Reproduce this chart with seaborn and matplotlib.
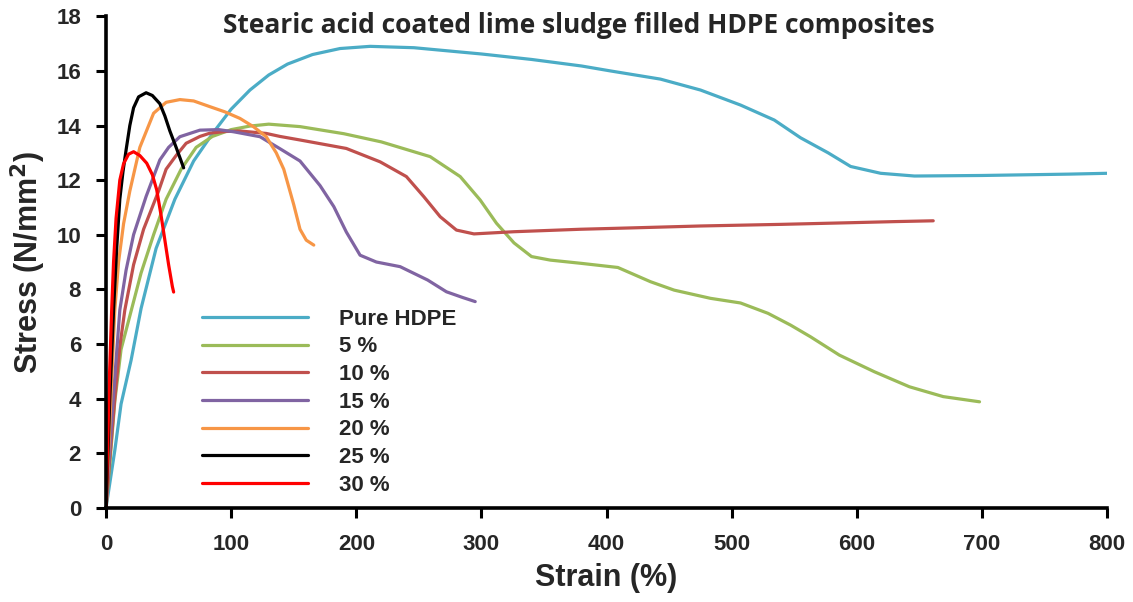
import matplotlib
matplotlib.use("Agg")
import matplotlib.pyplot as plt
import seaborn as sns

# Tensile stress-strain curves (strain in %, stress in N/mm^2)
pure_strain = [0, 3, 7, 12, 20, 28, 40, 55, 70, 85, 100, 115, 130, 145, 165, 187, 211,
               246, 300, 340, 380, 403, 443, 475, 507, 534, 555, 577, 595, 619, 646, 700, 770, 800]
pure_stress = [0, 0.9, 2.1, 3.8, 5.4, 7.3, 9.5, 11.3, 12.7, 13.7, 14.6, 15.3, 15.85, 16.25, 16.6,
               16.82, 16.9, 16.85, 16.62, 16.42, 16.18, 16.0, 15.7, 15.3, 14.75, 14.2, 13.55, 13.0,
               12.5, 12.25, 12.15, 12.17, 12.22, 12.25]

p5_strain = [0, 3, 7, 12, 20, 28, 38, 48, 60, 72, 85, 100, 115, 130, 155, 190, 220, 259, 283,
             299, 312, 326, 340, 355, 380, 409, 435, 454, 483, 507, 529, 547, 563, 586, 614, 642,
             669, 698]
p5_stress = [0, 1.6, 3.9, 5.8, 7.2, 8.6, 10.0, 11.3, 12.4, 13.2, 13.6, 13.85, 13.98, 14.05, 13.96,
             13.7, 13.4, 12.86, 12.13, 11.27, 10.42, 9.7, 9.2, 9.07, 8.95, 8.8, 8.28, 7.97, 7.67,
             7.5, 7.12, 6.69, 6.26, 5.59, 4.98, 4.43, 4.07, 3.88]

p10_strain = [0, 3, 7, 11, 15, 22, 30, 42, 48, 56, 64, 75, 83, 95, 107, 128, 139, 155, 192,
              219, 240, 254, 267, 280, 294, 326, 379, 420, 475, 540, 595, 630, 661]
p10_stress = [0, 1.8, 4.0, 5.9, 7.24, 8.9, 10.2, 11.6, 12.4, 12.9, 13.35, 13.6, 13.72, 13.78,
              13.8, 13.71, 13.6, 13.47, 13.16, 12.67, 12.13, 11.39, 10.66, 10.17, 10.03, 10.11,
              10.2, 10.25, 10.32, 10.38, 10.44, 10.48, 10.51]

p15_strain = [0, 2, 5, 8, 11, 16, 22, 32, 43, 50, 59, 75, 90, 102, 123, 139, 155, 171, 182,
              192, 203, 216, 235, 257, 272, 285, 295]
p15_stress = [0, 1.5, 3.5, 5.4, 7.24, 8.7, 10.0, 11.4, 12.74, 13.2, 13.59, 13.83, 13.85, 13.77,
              13.59, 13.15, 12.7, 11.8, 11.03, 10.1, 9.25, 9.0, 8.83, 8.34, 7.91, 7.7, 7.55]

p20_strain = [0, 2, 4, 7, 10, 14, 19, 27, 38, 48, 59, 70, 83, 95, 107, 118, 128, 136, 142,
              150, 155, 160, 166]
p20_stress = [0, 2.0, 4.2, 7.24, 9.0, 10.4, 11.6, 13.2, 14.45, 14.85, 14.95, 14.9, 14.69, 14.5,
              14.26, 13.95, 13.59, 13.0, 12.4, 11.1, 10.2, 9.8, 9.62]

p25_strain = [0, 1.5, 3, 6, 8.5, 11, 13.5, 16, 19, 22, 26, 32, 37, 43, 47, 51, 56, 62]
p25_stress = [0, 2.0, 4.0, 7.24, 9.5, 11.3, 12.3, 13.1, 14.0, 14.65, 15.05, 15.2, 15.1, 14.8,
              14.35, 13.8, 13.2, 12.45]

p30_strain = [0, 1, 2.5, 4.5, 6, 8, 11, 14, 18, 22, 27, 32.5, 37, 40.5, 44, 47, 50, 53, 54]
p30_stress = [0, 1.8, 4.5, 7.24, 9.0, 10.6, 12.0, 12.6, 12.95, 13.04, 12.9, 12.62, 12.2, 11.64,
              10.7, 9.8, 8.9, 8.1, 7.9]

labels = ["Pure HDPE", "5 %", "10 %", "15 %", "20 %", "25 %", "30 %"]
colors = ["#4BACC6", "#9BBB59", "#C0504D", "#8064A2", "#F79646", "#000000", "#FF0000"]
x_ticks = [0, 100, 200, 300, 400, 500, 600, 700, 800]
y_ticks = [0, 2, 4, 6, 8, 10, 12, 14, 16, 18]

series = [
    (pure_strain, pure_stress),
    (p5_strain, p5_stress),
    (p10_strain, p10_stress),
    (p15_strain, p15_stress),
    (p20_strain, p20_stress),
    (p25_strain, p25_stress),
    (p30_strain, p30_stress),
]

sns.set_style("ticks")
plt.rcParams["font.family"] = ["Liberation Sans", "DejaVu Sans"]
plt.rcParams["font.weight"] = "bold"

fig = plt.figure(figsize=(11.33, 6.02), dpi=100)
ax = fig.add_axes([0.0936, 0.1566, 0.8836, 0.8163])

for (xs, ys), lab, col in zip(series, labels, colors):
    sns.lineplot(x=xs, y=ys, sort=False, estimator=None, color=col, lw=2.3,
                 label=lab, ax=ax)

ax.set_xlim(0, 800)
ax.set_ylim(0, 18)
ax.set_xticks(x_ticks)
ax.set_yticks(y_ticks)
ax.set_xticklabels([str(t) for t in x_ticks], fontsize=16, fontweight="bold")
ax.set_yticklabels([str(t) for t in y_ticks], fontsize=16, fontweight="bold")
ax.tick_params(axis="both", direction="out", length=7, width=2.2, color="black")
ax.tick_params(axis="x", pad=12)
ax.tick_params(axis="y", pad=11)

for side in ("top", "right"):
    ax.spines[side].set_visible(False)
for side in ("left", "bottom"):
    ax.spines[side].set_linewidth(2.6)
    ax.spines[side].set_color("black")

ax.set_xlabel("Strain (%)", fontsize=22, fontweight="bold")
ax.set_ylabel("Stress (N/mm$^\\mathbf{2}$)", fontsize=22, fontweight="bold")
ax.xaxis.set_label_coords(0.5, -0.112)
ax.yaxis.set_label_coords(-0.058, 0.5)

fig.text(0.511, 0.958, "Stearic acid coated lime sludge filled HDPE composites",
         ha="center", va="center", fontsize=19, fontweight="bold",
         family=["Open Sans", "DejaVu Sans"])

leg = ax.legend(loc="upper left", bbox_to_anchor=(0.096, 0.405), frameon=False,
                fontsize=16, handlelength=4.75, handletextpad=1.4, labelspacing=0.3,
                borderpad=0, borderaxespad=0)
for t in leg.get_texts():
    t.set_fontweight("bold")
for h in leg.get_lines():
    h.set_linewidth(2.3)

fig.savefig("out.png", dpi=100)
